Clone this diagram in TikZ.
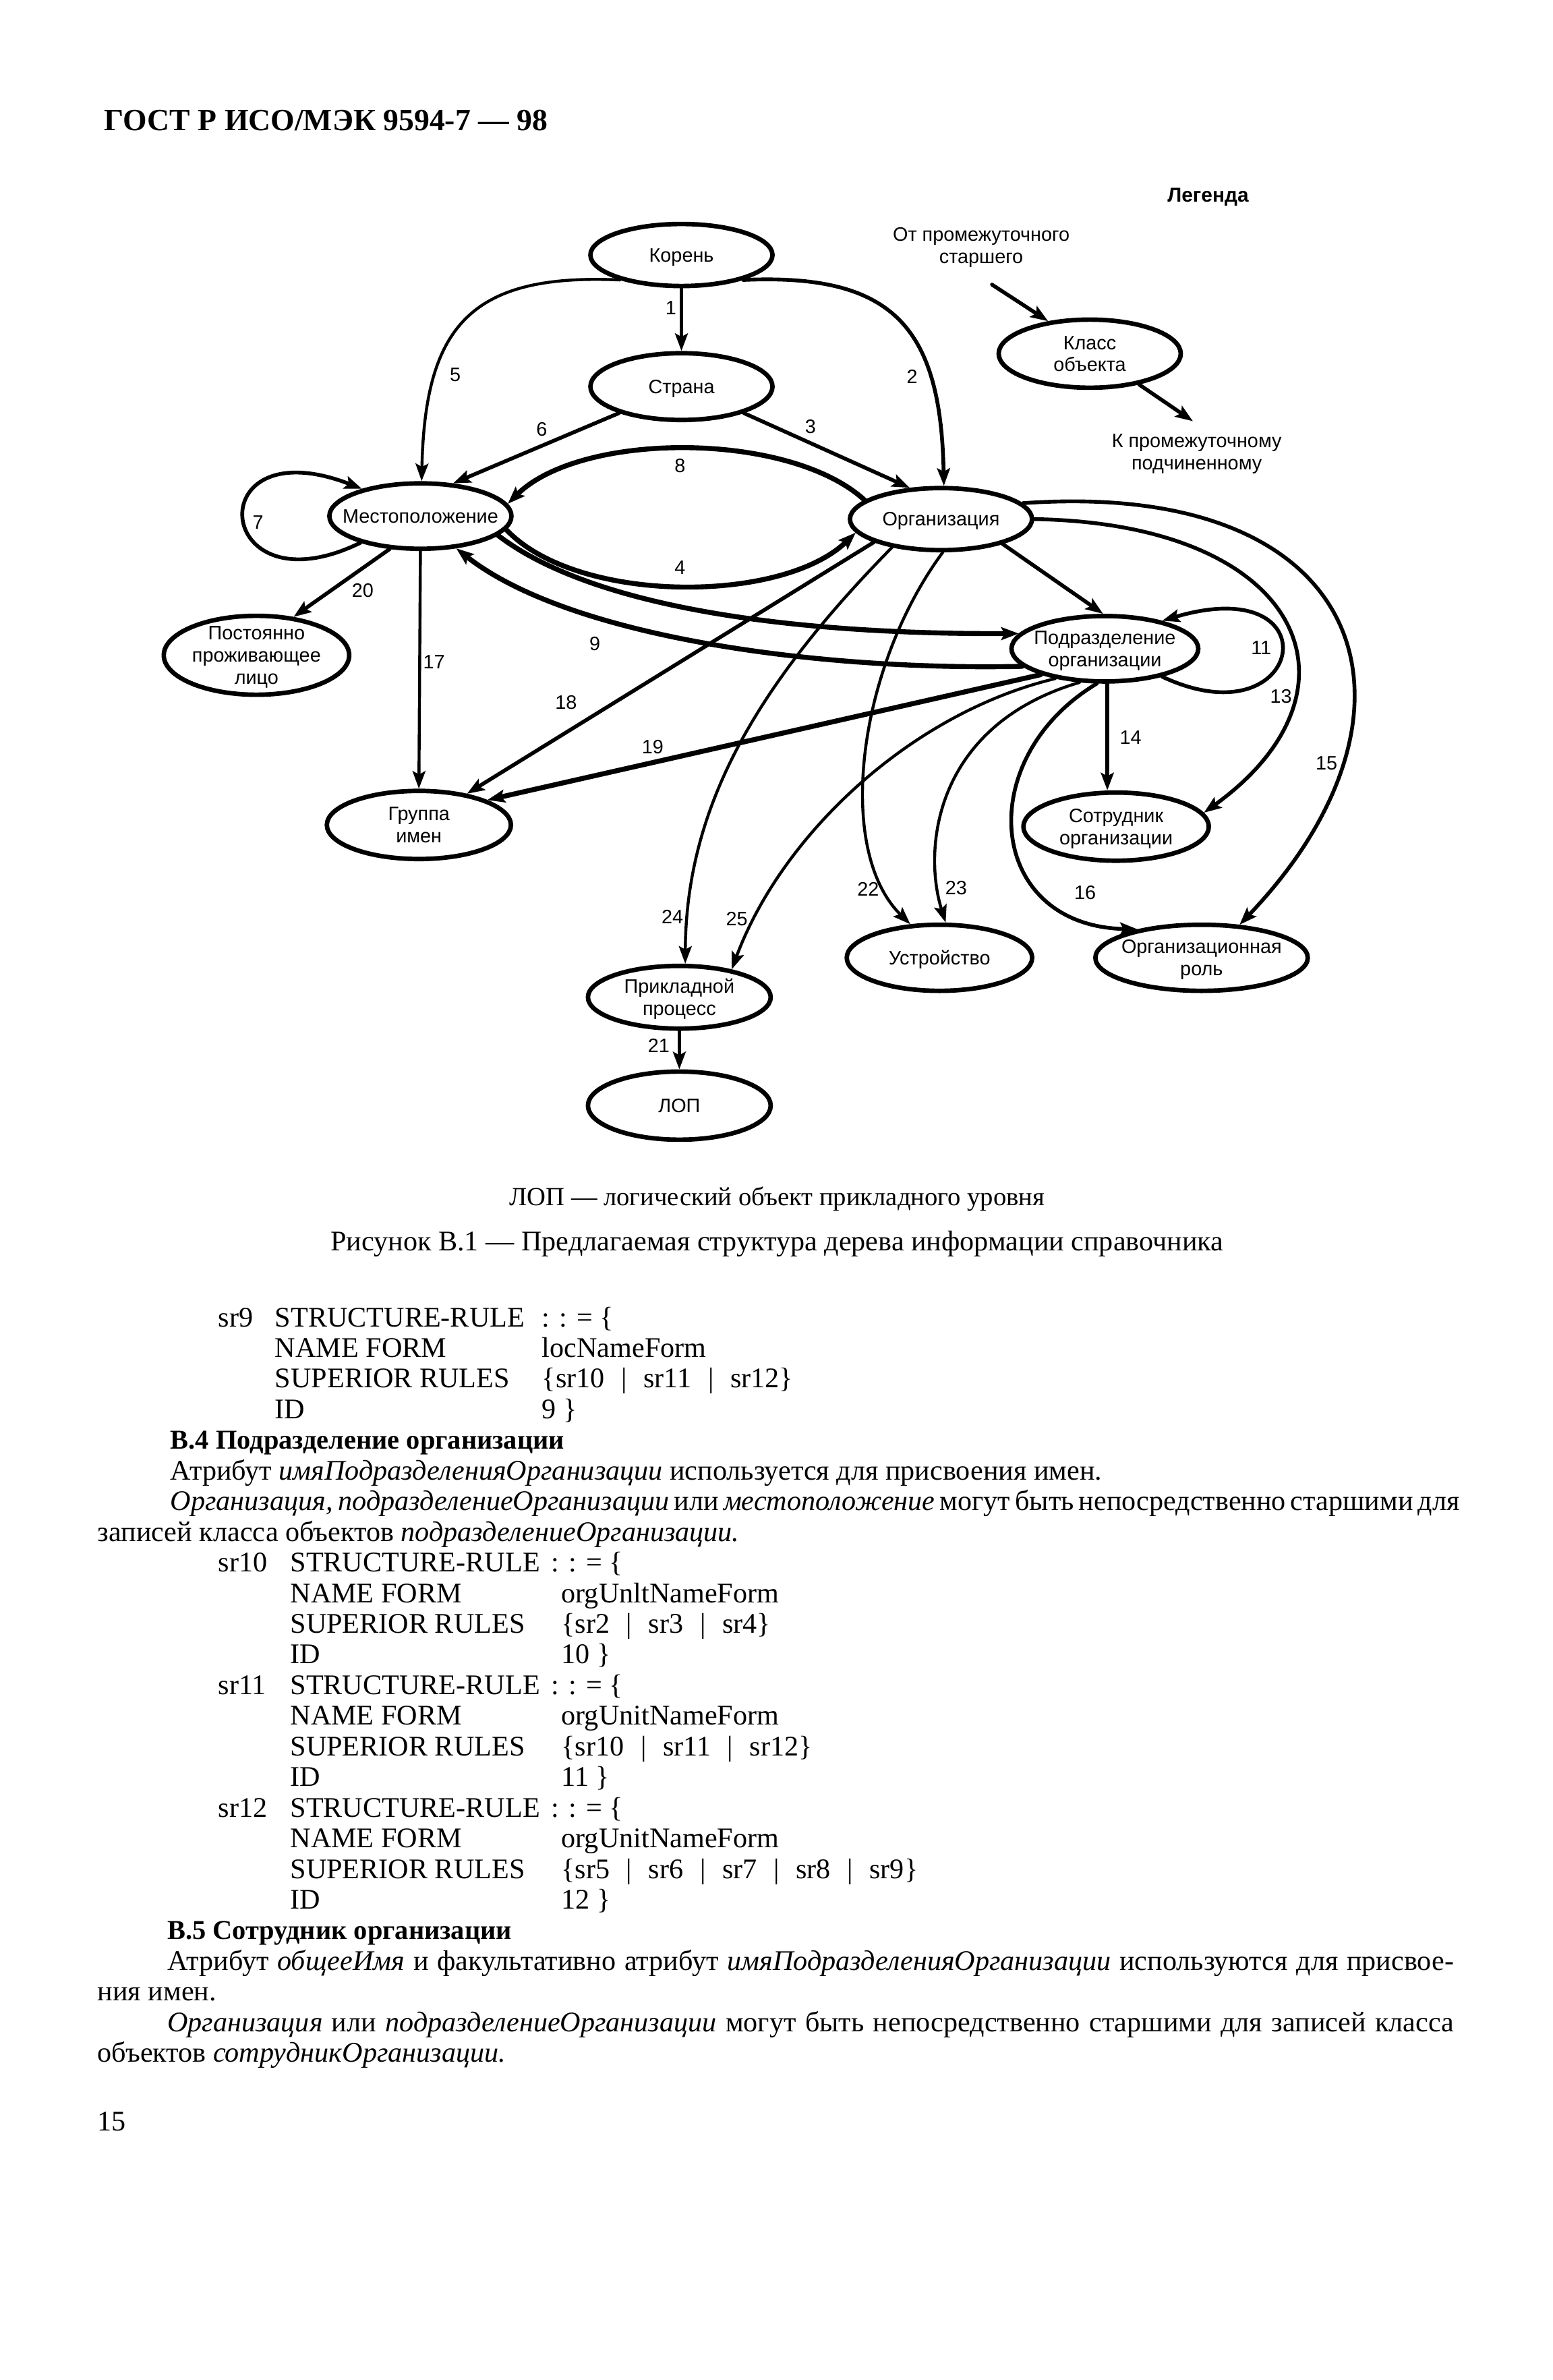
\documentclass[tikz,border=0pt]{standalone}
\usepackage{fontspec}
\setmainfont{Liberation Serif}
\newfontfamily\diafont{Liberation Sans}
\usetikzlibrary{arrows.meta,shapes.geometric}
\newcommand\ctext[1]{\smash{\makebox[0pt]{\raisebox{-3pt}{\begin{tabular}{@{}c@{}}#1\end{tabular}}}}}
\newcommand\rsep{\hspace{7pt}|\hspace{7pt}}

\begin{document}
\begin{tikzpicture}[x=0.0225cm,y=-0.0225cm,>={Stealth[length=2.6mm,width=1.9mm,inset=0.5mm]},line cap=round,
  obj/.style={ellipse,draw,line width=1.9pt,inner sep=0pt,minimum width=2.7cm,minimum height=0.95cm,font=\diafont\fontsize{8.2}{9.3}\selectfont},
  lbl/.style={inner sep=0pt,font=\diafont\fontsize{8.2}{9.3}\selectfont},
  arr/.style={->,line width=1.6pt},
  arrlite/.style={->,line width=1.25pt},
  arrheavy/.style={->,line width=2.1pt},
  ln/.style={anchor=base west,inner sep=0pt,font=\fontsize{12}{12.93}\selectfont}]
\useasboundingbox (0,0) rectangle (1023,1568);

\node[anchor=base west,inner sep=0pt,font=\bfseries\fontsize{13}{15}\selectfont] (hdr) at (68.5,86) {ГОСТ Р ИСО/МЭК 9594-7 — 98};

\node[obj,minimum height=0.92cm] (root) at (449,168) {\ctext{Корень}};
\node[obj,minimum height=0.99cm] (country) at (449,254.7) {\ctext{Страна}};
\node[obj,minimum height=0.97cm] (loc) at (277,340) {\ctext{Местоположение}};
\node[obj,minimum height=0.92cm] (org) at (620,342) {\ctext{Организация}};
\node[obj,minimum height=1.01cm] (cls) at (718,233) {\ctext{Класс\\объекта}};
\node[obj,minimum width=2.75cm,minimum height=1.17cm] (res) at (169,431.7) {\ctext{Постоянно\\проживающее\\лицо}};
\node[obj,minimum width=2.77cm,minimum height=0.97cm] (unit) at (728,427.4) {\ctext{Подразделение\\организации}};
\node[obj,minimum width=2.73cm,minimum height=1.01cm] (grp) at (276,543.5) {\ctext{Группа\\имен}};
\node[obj,minimum width=2.75cm,minimum height=1.01cm] (staff) at (735.4,544.6) {\ctext{Сотрудник\\организации}};
\node[obj,minimum width=2.75cm,minimum height=0.98cm] (dev) at (619,631) {\ctext{Устройство}};
\node[obj,minimum width=3.15cm,minimum height=0.98cm] (role) at (791.7,631) {\ctext{Организационная\\роль}};
\node[obj,minimum width=2.71cm,minimum height=0.93cm] (proc) at (447.6,657) {\ctext{Прикладной\\процесс}};
\node[obj,minimum width=2.71cm,minimum height=1.01cm] (aoe) at (447.6,728.4) {\ctext{ЛОП}};

\node[lbl,font=\diafont\bfseries\fontsize{8.5}{10}\selectfont] (legend) at (796,130) {Легенда};
\node[lbl,align=center] (src) at (646.5,163) {От промежуточного\\старшего};
\node[lbl,align=center] (dst) at (788.5,299) {К промежуточному\\подчиненному};
\coordinate (inA) at (653.6,187.5);
\coordinate (outB) at (786,277.5);
\draw[arr] (inA) -- (cls.142);
\draw[arr] (cls.-32) -- (outB);

\draw[arrlite] (root.-90) -- (country.90);
\draw[arr] (root.-22) .. controls (588,180) and (620,215) .. (org.85);
\draw[arrlite] (root.202) .. controls (310,180) and (280,215) .. (loc.88);
\draw[arr] (country.-23) -- (org.135);
\draw[arr] (country.203) -- (loc.45);
\draw[arrheavy] (org.166) .. controls (520,284) and (383,284) .. (loc.8);
\draw[arrheavy] (loc.-9) .. controls (380,398) and (515,398) .. (org.189);
\draw[arr] (loc.204) .. controls (140,405) and (130,280) .. (loc.155);
\draw[arr] (loc.227) -- (res.46);
\draw[arrlite] (loc.-90) -- (grp.90);
\draw[arrheavy] (loc.-14) .. controls (390,400) and (520,418) .. (unit.170);
\draw[arrheavy] (unit.192) .. controls (540,442) and (375,420) .. (loc.-42);
\draw[arr] (org.-22) -- (unit.93);
\draw[arr] (unit.-26) .. controls (860,490) and (880,375) .. (unit.26);
\draw[arr] (org.0) .. controls (860,345) and (905,455) .. (staff.9);
\draw[arr] (org.11) .. controls (905,315) and (950,470) .. (role.41);
\draw[arr] (unit.-86) -- (unit.-86 |- staff.north);
\draw[arr] (unit.257) .. controls (640,500) and (650,610) .. (role.156);
\draw[arrlite] (unit.233) .. controls (615,478) and (608,560) .. (dev.80);
\draw[arrlite] (org.-87) .. controls (565,440) and (550,560) .. (dev.131);
\draw[arrlite] (org.210) .. controls (500,450) and (452,530) .. (proc.80);
\draw[arrlite] (unit.211) .. controls (600,470) and (515,550) .. (proc.28);
\draw[arr] (org.199) -- (grp.33);
\draw[arrheavy] (unit.202) -- (grp.20);
\draw[arrlite] (proc.-90) -- (aoe.90);

\foreach \n/\x/\y in {1/442/203,2/601/248,3/534/281,4/448/374,5/300/247,6/357/283,7/170/344,
  8/448/307,9/392/424,11/831/427,13/844/459,14/745/486,15/874/503,16/715/588,17/286/436,
  18/373/463,19/430/492,20/239/389,21/434/689,22/572/586,23/630/585,24/443/604,25/485.5/605.6}
  \node[lbl] (n\n) at (\x,\y) {\n};

\node[anchor=base,inner sep=0pt,font=\fontsize{11}{13}\selectfont] (note) at (512,794) {ЛОП — логический объект прикладного уровня};
\node[anchor=base,inner sep=0pt,font=\fontsize{12}{14}\selectfont] (cap) at (512,824) {Рисунок В.1 — Предлагаемая структура дерева информации справочника};

\node[ln] (sr9) at (143.6,874) {\begin{tabular}[t]{@{}p{0.84cm}@{}p{3.96cm}@{}l@{}}
sr9 & STRUCTURE-RULE & : : = \{\\
 & NAME FORM & locNameForm\\
 & SUPERIOR RULES & \{sr10\rsep sr11\rsep sr12\}\\
 & ID & 9 \}
\end{tabular}};
\node[ln,font=\bfseries\fontsize{11.5}{12.93}\selectfont] (secB4) at (112,954.8) {В.4 Подразделение организации};
\node[ln] (p4a) at (112,975) {Атрибут \textit{имяПодразделенияОрганизации} используется для присвоения имен.};
\node[ln] (p4b) at (112,995.1) {\makebox[19.01cm][s]{\textit{Организация, подразделениеОрганизации} или \textit{местоположение} могут быть непосредственно старшими для}};
\node[ln] (p4c) at (64,1015.3) {записей класса объектов \textit{подразделениеОрганизации.}};

\node[ln] (sr10) at (143.6,1035.5) {\begin{tabular}[t]{@{}p{1.067cm}@{}p{4.02cm}@{}l@{}}
sr10 & STRUCTURE-RULE & \hspace*{-0.15cm}: : = \{\\
 & NAME FORM & orgUnltNameForm\\
 & SUPERIOR RULES & \{sr2\rsep sr3\rsep sr4\}\\
 & ID & 10 \}\\
sr11 & STRUCTURE-RULE & \hspace*{-0.15cm}: : = \{\\
 & NAME FORM & orgUnitNameForm\\
 & SUPERIOR RULES & \{sr10\rsep sr11\rsep sr12\}\\
 & ID & 11 \}\\
sr12 & STRUCTURE-RULE & \hspace*{-0.15cm}: : = \{\\
 & NAME FORM & orgUnitNameForm\\
 & SUPERIOR RULES & \{sr5\rsep sr6\rsep sr7\rsep sr8\rsep sr9\}\\
 & ID & 12 \}
\end{tabular}};

\node[ln,font=\bfseries\fontsize{11.5}{12.93}\selectfont] (secB5) at (110,1277.8) {В.5 Сотрудник организации};
\node[ln] (p5a) at (110,1298) {\makebox[19.08cm][s]{Атрибут \textit{общееИмя} и факультативно атрибут \textit{имяПодразделенияОрганизации} используются для присвое-}};
\node[ln] (p5b) at (64,1318.2) {ния имен.};
\node[ln] (p5c) at (110,1338.4) {\makebox[19.08cm][s]{\textit{Организация} или \textit{подразделениеОрганизации} могут быть непосредственно старшими для записей класса}};
\node[ln] (p5d) at (64,1358.6) {объектов \textit{сотрудникОрганизации.}};
\node[ln] (pg) at (64,1404) {15};
\end{tikzpicture}
\end{document}
